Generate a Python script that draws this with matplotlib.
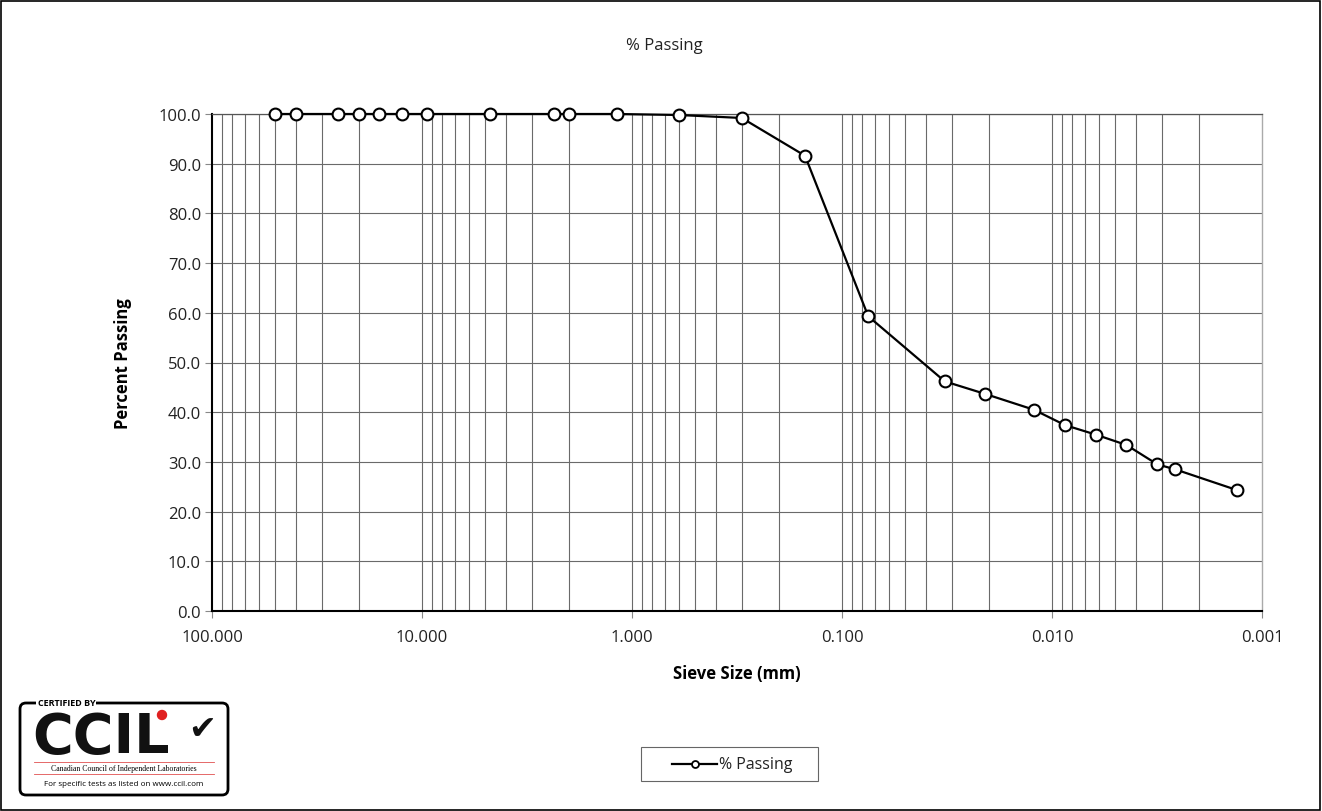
import matplotlib
matplotlib.use("Agg")
import matplotlib.pyplot as plt
from matplotlib.patches import FancyBboxPatch, Rectangle, Circle
from matplotlib.lines import Line2D
from matplotlib.ticker import FixedLocator, FixedFormatter, NullFormatter

plt.rcParams['font.family'] = ['Open Sans', 'DejaVu Sans']

# sieve sizes (mm) and percent passing
sieve_mm = [50, 40, 25, 20, 16, 12.5, 9.5, 4.75, 2.36, 2.0, 1.18, 0.6, 0.3,
            0.15, 0.075, 0.0324, 0.0209, 0.0122, 0.00867, 0.0062, 0.00442,
            0.00315, 0.00259, 0.00131]
passing = [100.0, 100.0, 100.0, 100.0, 100.0, 100.0, 100.0, 100.0, 100.0, 100.0,
           100.0, 99.8, 99.2, 91.6, 59.3, 46.2, 43.7, 40.5, 37.4, 35.5, 33.4,
           29.5, 28.5, 24.3]
x_major = [100, 10, 1, 0.1, 0.01, 0.001]
x_major_labels = ["100.000", "10.000", "1.000", "0.100", "0.010", "0.001"]
y_ticks = [0, 10, 20, 30, 40, 50, 60, 70, 80, 90, 100]

W, H = 1322, 812
fig = plt.figure(figsize=(W / 100, H / 100), dpi=100)

# outer border
fig.patches.append(Rectangle((0.0005, 0.001), 0.998, 0.997, transform=fig.transFigure,
                             fill=False, edgecolor='black', linewidth=1.2))

ax = fig.add_axes([212 / W, 1 - 612 / H, 1050 / W, 497 / H])
ax.set_xscale('log')
ax.set_xlim(100, 0.001)
ax.set_ylim(0, 100)

# grid lines (major + minor decades)
minor = []
for d in [10, 1, 0.1, 0.01, 0.001]:
    for k in range(2, 10):
        minor.append(d * k)
gc = '#6a6a6a'
for v in minor + x_major[1:-1]:
    ax.axvline(v, color=gc, linewidth=0.8, zorder=1)
for v in y_ticks[1:]:
    ax.axhline(v, color=gc, linewidth=0.8, zorder=1)

ax.plot(sieve_mm, passing, color='black', linewidth=1.6, marker='o',
        markersize=8.5, markerfacecolor='white', markeredgecolor='black',
        markeredgewidth=1.5, zorder=3, clip_on=False)

ax.xaxis.set_major_locator(FixedLocator(x_major))
ax.xaxis.set_major_formatter(FixedFormatter(x_major_labels))
ax.xaxis.set_minor_locator(FixedLocator(minor))
ax.xaxis.set_minor_formatter(NullFormatter())
ax.tick_params(axis='x', which='minor', length=0)
ax.tick_params(axis='x', which='major', length=5, width=0.8, color='#888888',
               labelsize=12, pad=8, colors='#222222')
ax.set_yticks(y_ticks)
ax.set_yticklabels([f"{v:.1f}" for v in y_ticks])
ax.tick_params(axis='y', length=5, width=0.8, color='#888888', labelsize=12,
               pad=3, colors='#222222')

for s in ['left', 'bottom']:
    ax.spines[s].set_color('black')
    ax.spines[s].set_linewidth(1.5)
ax.spines['top'].set_color('#555555')
ax.spines['top'].set_linewidth(0.9)
ax.spines['right'].set_color('#aaaaaa')
ax.spines['right'].set_linewidth(1.0)

ax.set_xlabel("Sieve Size (mm)", fontsize=12, fontweight='bold', labelpad=14)
ax.set_ylabel("Percent Passing", fontsize=12, fontweight='bold', labelpad=19)

fig.text(664 / W, 1 - 46 / H, "% Passing", ha='center', va='center', fontsize=12,
         color='#222222')

# legend, drawn by hand so the box matches the reference size
fig.patches.append(Rectangle((641 / W, 1 - 782 / H), 177 / W, 34 / H,
                             transform=fig.transFigure, fill=False,
                             edgecolor='#666666', linewidth=0.8))
fig.lines.append(Line2D([672 / W, 717 / W], [1 - 765 / H] * 2, transform=fig.transFigure,
                        color='black', linewidth=1.6))
fig.lines.append(Line2D([694.5 / W], [1 - 765 / H], transform=fig.transFigure,
                        marker='o', markersize=5, markerfacecolor='white',
                        markeredgecolor='black', markeredgewidth=1.3))
fig.text(719 / W, 1 - 765 / H, "% Passing", ha='left', va='center', fontsize=11.5,
         color='#222222')

# CCIL certification logo (approximation)
lg = fig.add_axes([14 / W, 1 - 804 / H, 220 / W, 110 / H])
lg.set_xlim(0, 220)
lg.set_ylim(110, 0)
lg.axis('off')
lg.add_patch(FancyBboxPatch((6, 10), 208, 92, boxstyle='round,pad=0,rounding_size=6',
                            fill=False, edgecolor='black', linewidth=2))
lg.add_patch(Rectangle((22, 4), 60, 12, facecolor='white', edgecolor='none'))
lg.text(24, 10, "CERTIFIED BY", fontsize=6.5, fontweight='bold', va='center', ha='left')
lg.text(18, 44, "CCIL", fontsize=40, fontweight='bold', va='center', ha='left',
        family=['DejaVu Sans'], color='#111111')
lg.add_patch(Circle((148, 22), 4.5, color='#e02020'))
lg.text(188, 36, "\u2714", fontsize=24, va='center', ha='center', color='#111111',
        family=['DejaVu Sans'])
lg.plot([20, 200], [69, 69], color='#e05050', linewidth=0.6)
lg.plot([20, 200], [81, 81], color='#e05050', linewidth=0.6)
lg.text(110, 75, "Canadian Council of Independent Laboratories", fontsize=5.6,
        family=['Liberation Serif'], va='center', ha='center')
lg.text(110, 91, "For specific tests as listed on www.ccil.com", fontsize=5.8,
        va='center', ha='center')

fig.savefig("out.png", dpi=100)
